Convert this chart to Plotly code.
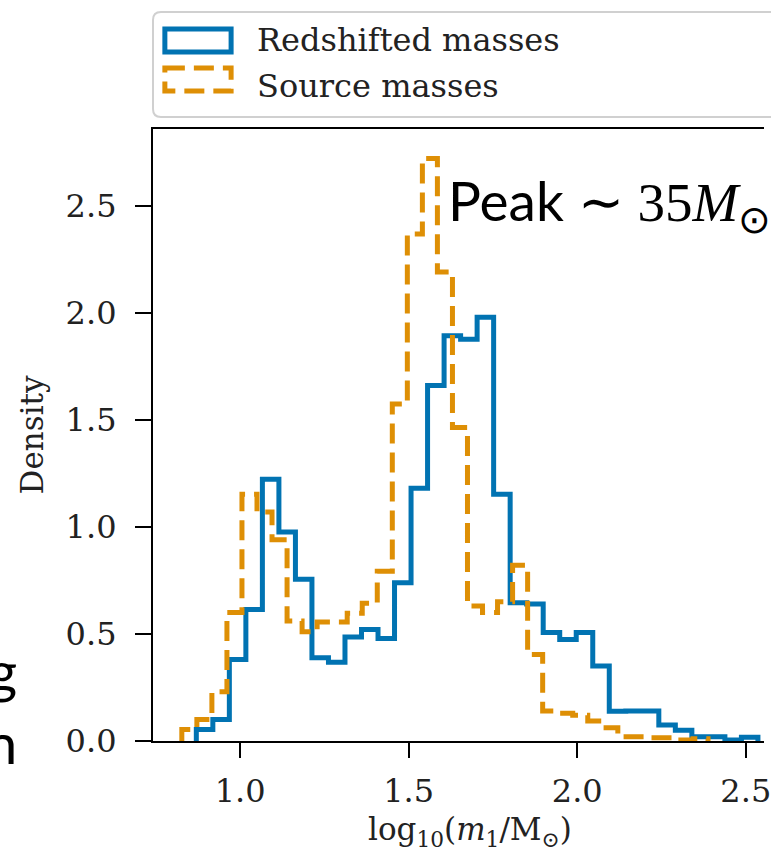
import numpy as np
import plotly.graph_objects as go

# ---- histogram data: density per bin of log10(m1 / Msun) ----
redshifted_lo, redshifted_hi = 0.870, 2.536
redshifted_density = [0.054, 0.10, 0.38, 0.614, 1.222, 0.976, 0.755, 0.389, 0.368,
                      0.485, 0.521, 0.478, 0.739, 1.18, 1.66, 1.892, 1.876, 1.978,
                      1.152, 0.646, 0.64, 0.506, 0.474, 0.506, 0.35, 0.139, 0.14,
                      0.14, 0.075, 0.05, 0.02, 0.02, 0.005, 0.018]

source_lo, source_hi = 0.827, 2.388
source_density = [0.054, 0.10, 0.23, 0.60, 1.152, 1.069, 0.94, 0.56, 0.51, 0.555,
                  0.555, 0.596, 0.643, 0.793, 1.573, 2.367, 2.72, 2.19, 1.464, 0.63,
                  0.60, 0.65, 0.82, 0.404, 0.14, 0.13, 0.12, 0.093, 0.062, 0.02,
                  0.02, 0.015, 0.015, 0.005, 0.01]

x_ticks = [1.0, 1.5, 2.0, 2.5]
y_ticks = [0.0, 0.5, 1.0, 1.5, 2.0, 2.5]
series_names = ["Redshifted masses", "Source masses"]

BLUE = "#0173b2"
ORANGE = "#de8f05"

# ---- canvas geometry (pixels) ----
W, H = 771, 856
L, R, T, B = 153, 771, 129, 741
PW, PH = R - L, B - T


def px(x):
    return (x - L) / PW


def py(y):
    return (B - y) / PH


def step_xy(lo, hi, dens):
    """Outline of a step histogram (matplotlib histtype='step')."""
    n = len(dens)
    edges = np.linspace(lo, hi, n + 1)
    x = np.concatenate([[edges[0]], edges[:-1], [edges[-1]]])
    y = np.concatenate([[0.0], dens, [0.0]])
    return x, y


fig = go.Figure()

xb, yb = step_xy(redshifted_lo, redshifted_hi, redshifted_density)
fig.add_trace(go.Scatter(x=xb, y=yb, mode="lines", line_shape="hv",
                         line=dict(color=BLUE, width=5), name=series_names[0],
                         showlegend=False))

xo, yo = step_xy(source_lo, source_hi, source_density)
fig.add_trace(go.Scatter(x=xo, y=yo, mode="lines", line_shape="hv",
                         line=dict(color=ORANGE, width=5, dash="20px,9px"),
                         name=series_names[1], showlegend=False))

tick_font = dict(family="DejaVu Serif", size=32, color="#222222")

fig.update_xaxes(range=[0.7415, 2.554], tickvals=x_ticks, tickformat=".1f",
                 ticks="outside", ticklen=15, tickwidth=2.4, tickcolor="black",
                 showline=True, linecolor="black", linewidth=2.2, mirror=True,
                 showgrid=False, zeroline=False, tickfont=tick_font,
                 ticklabelstandoff=5, ticklabeloverflow="allow")
fig.update_yaxes(range=[0, PH / 214.2], tickvals=y_ticks, tickformat=".1f",
                 ticks="outside", ticklen=16, tickwidth=2.4, tickcolor="black",
                 showline=True, linecolor="black", linewidth=2.2, mirror=False,
                 showgrid=False, zeroline=False, tickfont=tick_font,
                 ticklabelstandoff=12, ticklabeloverflow="allow")

shapes = []
annotations = []

# ---- legend box (rounded, extends past the right edge) ----
bx0, bx1, by0, by1, rad = 153, 810, 12, 117, 8
rx, ry = rad / PW, rad / PH
X0, X1, Y0, Y1 = px(bx0), px(bx1), py(by0), py(by1)
path = (f"M {X0 + rx},{Y0} L {X1 - rx},{Y0} Q {X1},{Y0} {X1},{Y0 - ry} "
        f"L {X1},{Y1 + ry} Q {X1},{Y1} {X1 - rx},{Y1} L {X0 + rx},{Y1} "
        f"Q {X0},{Y1} {X0},{Y1 + ry} L {X0},{Y0 - ry} Q {X0},{Y0} {X0 + rx},{Y0} Z")
shapes.append(dict(type="path", path=path, xref="paper", yref="paper",
                   line=dict(color="#d0d0d0", width=2), fillcolor="white"))

# legend swatches
shapes.append(dict(type="rect", xref="paper", yref="paper",
                   x0=px(165), x1=px(232), y0=py(29), y1=py(52),
                   line=dict(color=BLUE, width=5), fillcolor="rgba(0,0,0,0)"))
shapes.append(dict(type="rect", xref="paper", yref="paper",
                   x0=px(165), x1=px(232), y0=py(68), y1=py(91),
                   line=dict(color=ORANGE, width=5, dash="20px,9px"),
                   fillcolor="rgba(0,0,0,0)"))

legend_font = dict(family="DejaVu Serif", size=32, color="#222222")
for name, yc in zip(series_names, [40, 86]):
    annotations.append(dict(text=name, xref="paper", yref="paper",
                            x=px(256), y=py(yc), xanchor="left", yanchor="middle",
                            showarrow=False, font=legend_font))

# ---- axis titles ----
title_font = dict(family="DejaVu Serif", size=31, color="#222222")
annotations.append(dict(text="Density", textangle=-90, xref="paper", yref="paper",
                        x=px(31), y=0.5, xanchor="center", yanchor="middle",
                        showarrow=False, font=title_font))
annotations.append(dict(text="log<sub>10</sub>(<i>m</i><sub>1</sub>/M<sub>⊙</sub>)",
                        xref="x", yref="paper", x=1.682, y=py(831),
                        xanchor="center", yanchor="middle", showarrow=False,
                        font=title_font))

# ---- peak label ----
annotations.append(dict(
    text='<span style="font-family:Lato">Peak</span> ∼ 35<i>M</i><sub>⊙</sub>',
    xref="paper", yref="paper", x=px(449), y=py(204), xanchor="left",
    yanchor="middle", showarrow=False,
    font=dict(family="Liberation Serif", size=55, color="black")))

# fragments of neighbouring text at the left edge
for ch, yc in [("g", 670), ("n", 742)]:
    annotations.append(dict(text=ch, xref="paper", yref="paper",
                            x=px(17), y=py(yc), xanchor="right", yanchor="middle",
                            showarrow=False,
                            font=dict(family="Lato", size=56, color="black")))

fig.update_layout(width=W, height=H, margin=dict(l=L, r=W - R, t=T, b=H - B),
                  plot_bgcolor="white", paper_bgcolor="white",
                  shapes=shapes, annotations=annotations, showlegend=False)

fig.write_html("out.html")
